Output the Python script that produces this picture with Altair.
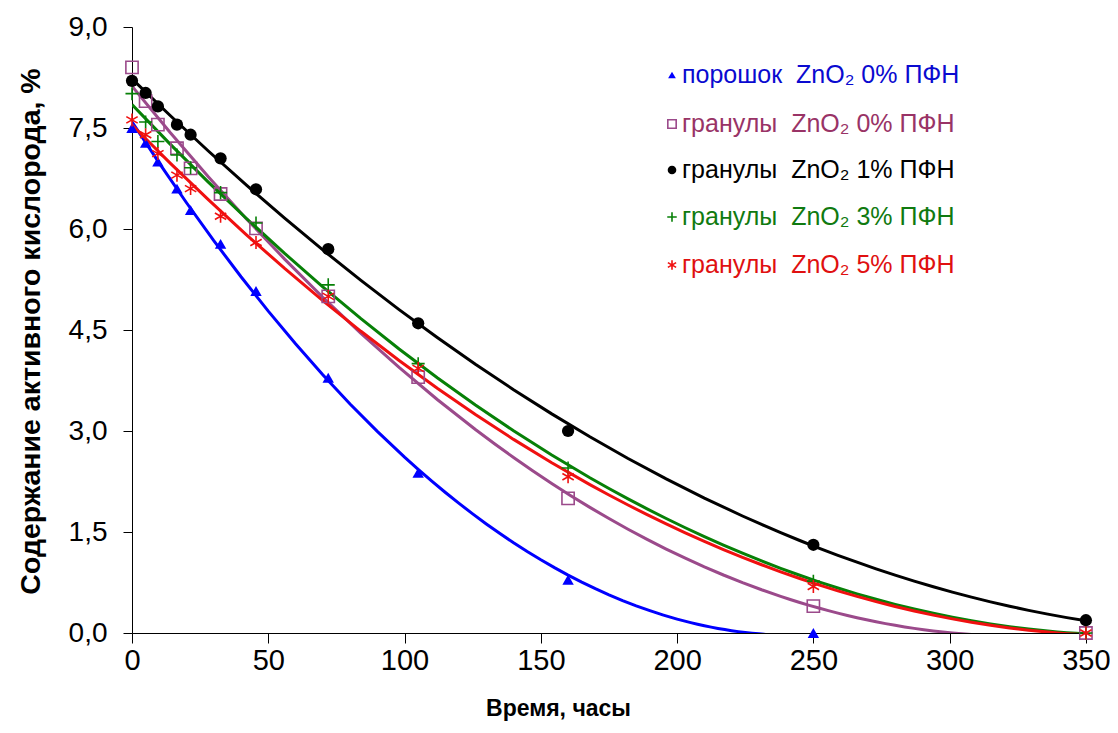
import altair as alt
import pandas as pd

# ---- data ----
t_all = [0, 5, 9.5, 16.5, 21.5, 32.5, 45.5, 72, 105, 160, 250, 350]
t_powder = [0, 5, 9.5, 16.5, 21.5, 32.5, 45.5, 72, 105, 160, 250]

powder_0 = [7.5, 7.28, 7.0, 6.6, 6.28, 5.78, 5.08, 3.79, 2.38, 0.79, 0.0]
gran_0 = [8.4, 7.9, 7.55, 7.2, 6.9, 6.52, 6.01, 5.0, 3.8, 2.0, 0.4, 0.0]
gran_1 = [8.2, 8.02, 7.82, 7.55, 7.4, 7.05, 6.59, 5.7, 4.6, 3.0, 1.31, 0.19]
gran_3 = [8.01, 7.59, 7.3, 7.1, 6.91, 6.54, 6.09, 5.17, 4.0, 2.45, 0.77, 0.0]
gran_5 = [7.62, 7.4, 7.12, 6.8, 6.6, 6.19, 5.8, 5.0, 3.93, 2.32, 0.69, 0.0]

series = ["p0", "g0", "g1", "g3", "g5"]
NB = "\u00a0"
labels = [
    "порошок" + NB + NB + "ZnO₂ 0% ПФН",
    "гранулы" + NB + NB + "ZnO₂ 0% ПФН",
    "гранулы" + NB + NB + "ZnO₂ 1% ПФН",
    "гранулы" + NB + NB + "ZnO₂ 3% ПФН",
    "гранулы" + NB + NB + "ZnO₂ 5% ПФН",
]
colors = ["#0000FF", "#9B4A8B", "#000000", "#078007", "#F01010"]
text_colors = ["#0A0AD0", "#993366", "#000000", "#107A10", "#E01010"]
x_ticks = [0, 50, 100, 150, 200, 250, 300, 350]
y_ticks = [0, 1.5, 3, 4.5, 6, 7.5, 9]

rows = []
for s, tt, vv in [("p0", t_powder, powder_0), ("g0", t_all, gran_0),
                  ("g1", t_all, gran_1), ("g3", t_all, gran_3),
                  ("g5", t_all, gran_5)]:
    for a, b in zip(tt, vv):
        rows.append({"s": s, "t": a, "v": b})
df = pd.DataFrame(rows)

PLUS = "M-1,0L1,0M0,-1L0,1"
STAR = "M0,-1L0,1M-0.87,-0.5L0.87,0.5M-0.87,0.5L0.87,-0.5"

xscale = alt.Scale(domain=[0, 351.5], nice=False, zero=False)
yscale = alt.Scale(domain=[0, 9], nice=False)

x_enc = alt.X("t:Q", scale=xscale, axis=alt.Axis(
    values=x_ticks, title="Время, часы", tickSize=10, labelPadding=3,
    labelFont="Liberation Sans", labelFontSize=29, labelColor="#000",
    titleFont="Liberation Sans", titleFontSize=23, titleFontWeight="bold",
    titleX=426, titleY=75, titleAlign="center", titleBaseline="middle",
    domainColor="#000", tickColor="#000", grid=False, labelFlush=False))
y_enc = alt.Y("v:Q", scale=yscale, axis=alt.Axis(
    values=y_ticks, title="Содержание активного кислорода, %", tickSize=9,
    labelPadding=16, labelFont="Liberation Sans", labelFontSize=28,
    labelColor="#000",
    labelExpr="replace(format(datum.value, '.1f'), '.', ',')",
    titleFont="Liberation Sans", titleFontSize=28.5, titleFontWeight="bold",
    titleX=-102, titleY=304, titleAngle=270, titleAlign="center",
    titleBaseline="middle",
    domainColor="#000", tickColor="#000", grid=False, labelFlush=False))

color_scale = alt.Scale(domain=series, range=colors)

lines = alt.Chart(df).transform_regression(
    "t", "v", method="poly", order=2, groupby=["s"]
).mark_line(clip=True, strokeWidth=3).encode(
    x=x_enc, y=y_enc,
    color=alt.Color("s:N", scale=color_scale, legend=None),
    detail="s:N",
)

marker_specs = {
    "p0": dict(shape="triangle-up", filled=True, size=130, color=colors[0]),
    "g0": dict(shape="square", filled=False, size=150, color=colors[1], strokeWidth=1.6),
    "g1": dict(shape="circle", filled=True, size=150, color=colors[2]),
    "g3": dict(shape=PLUS, filled=False, size=170, color=colors[3], strokeWidth=1.6),
    "g5": dict(shape=STAR, filled=False, size=170, color=colors[4], strokeWidth=1.6),
}

point_layers = []
for s in series:
    point_layers.append(
        alt.Chart(df).transform_filter(alt.datum.s == s)
        .mark_point(clip=False, opacity=1, **marker_specs[s])
        .encode(x="t:Q", y="v:Q")
    )

legend_layers = []
leg_y = [48, 97, 143, 190, 238]
legend_sizes = {"p0": 60, "g0": 70, "g1": 75, "g3": 90, "g5": 90}
for i, s in enumerate(series):
    spec = dict(marker_specs[s])
    spec["size"] = legend_sizes[s]
    legend_layers.append(
        alt.Chart(alt.Data(values=[{"k": labels[i]}])).mark_point(opacity=1, **spec)
        .encode(x=alt.value(540), y=alt.value(leg_y[i]))
    )
    legend_layers.append(
        alt.Chart(alt.Data(values=[{"k": labels[i]}])).mark_text(
            align="left", baseline="middle", font="Liberation Sans",
            fontSize=25, color=text_colors[i])
        .encode(x=alt.value(550), y=alt.value(leg_y[i]), text="k:N")
    )

chart = alt.layer(lines, *point_layers, *legend_layers).properties(
    width=958, height=606,
    autosize=alt.AutoSizeParams(type="none"),
    padding={"left": 124, "top": 19, "right": 20, "bottom": 88},
    background="white",
).configure_view(stroke=None)

chart.save("out.html", embed_options={"renderer": "svg", "actions": False})
